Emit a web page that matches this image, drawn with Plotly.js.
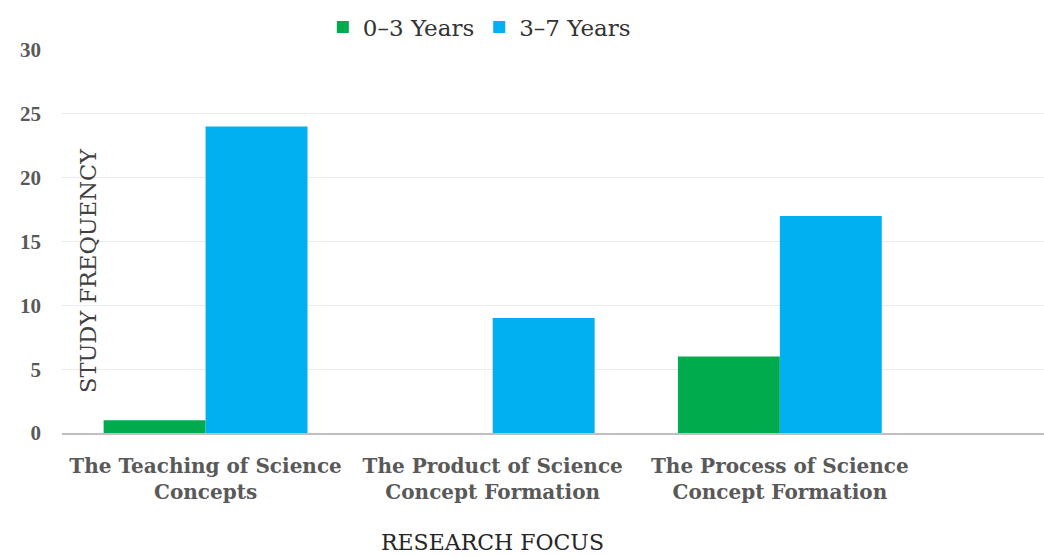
<!DOCTYPE html>
<html>
<head>
<meta charset="utf-8">
<script src="https://cdn.plot.ly/plotly-3.0.1.min.js"></script>
<style>html,body{margin:0;padding:0;background:#fff;}#chart{width:1044px;height:556px;}</style>
</head>
<body>
<div id="chart"></div>
<script>
var categories = ["The Teaching of Science<br>Concepts", "The Product of Science<br>Concept Formation", "The Process of Science<br>Concept Formation"];
var seriesNames = ["0–3 Years", "3–7 Years"];
var years0to3 = [1, 0, 6];
var years3to7 = [24, 9, 17];
var yTicks = [0, 5, 10, 15, 20, 25, 30];

var serif = "DejaVu Serif, serif";
var serifNarrow = "Liberation Serif, Times New Roman, serif";
var traces = [
  {type: "bar", name: seriesNames[0], x: categories, y: years0to3, marker: {color: "#00AB4E"}},
  {type: "bar", name: seriesNames[1], x: categories, y: years3to7, marker: {color: "#00B0F0"}}
];
var layout = {
  width: 1044, height: 556,
  margin: {l: 62, r: 0, t: 50, b: 123},
  paper_bgcolor: "#fff", plot_bgcolor: "#fff",
  barmode: "group", bargap: 0.29, bargroupgap: 0,
  showlegend: true,
  legend: {orientation: "h", x: 0.425, xanchor: "center", y: 1.06, yanchor: "middle",
           font: {family: serif, size: 23, color: "#333333"}, itemwidth: 30, tracegroupgap: 0},
  xaxis: {range: [-0.5, 2.92], type: "category", showgrid: false, showline: true, linecolor: "#bfbfbf", linewidth: 1.5,
          ticks: "", ticklabelstandoff: 14,
          tickfont: {family: serif, size: 20, color: "#595959", weight: "bold"}, fixedrange: true},
  yaxis: {range: [0, 30], tickvals: yTicks, showgrid: true, gridcolor: "#ebebeb", gridwidth: 1, zeroline: false,
          showline: false, ticks: "", ticklabelstandoff: 20,
          tickfont: {family: serifNarrow, size: 21, color: "#595959", weight: "bold"}},
  annotations: [
    {text: "STUDY FREQUENCY", xref: "paper", yref: "paper", x: 0.0265, y: 0.423, textangle: -90,
     showarrow: false, xanchor: "center", yanchor: "middle", font: {family: serif, size: 22.5, color: "#404040"}},
    {text: "RESEARCH FOCUS", xref: "paper", yref: "paper", x: 0.438, y: -0.287,
     showarrow: false, xanchor: "center", yanchor: "middle", font: {family: serif, size: 22, color: "#262626"}}
  ]
};
Plotly.newPlot("chart", traces, layout, {displayModeBar: false, staticPlot: true});
</script>
</body>
</html>
